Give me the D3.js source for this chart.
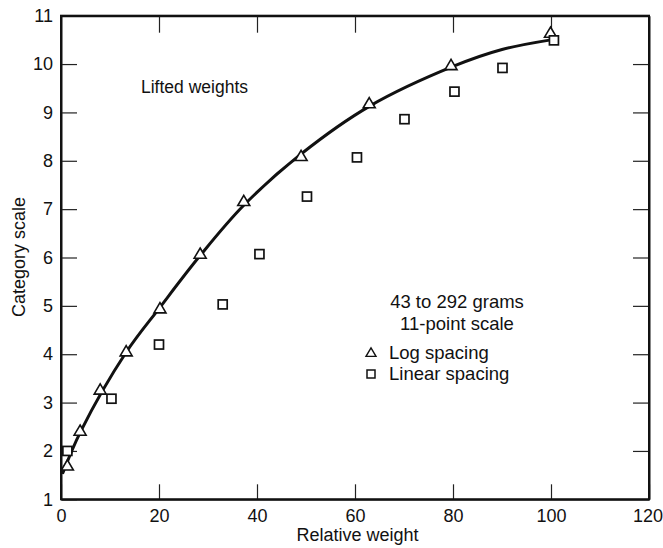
<!DOCTYPE html>
<html>
<head>
<meta charset="utf-8">
<script src="https://cdn.jsdelivr.net/npm/d3@7"></script>
<style>
  html, body { margin: 0; padding: 0; background: #fff; }
  svg { display: block; }
  text { font-family: "Liberation Sans", Arial, sans-serif; fill: #111; }
</style>
</head>
<body>
<svg id="chart" width="663" height="548"></svg>
<script>
// ---- Data ----
const logX = [1.3, 3.9, 8.0, 13.3, 20.2, 28.4, 37.3, 49.0, 62.9, 79.6, 99.9];
const logY = [1.69, 2.41, 3.26, 4.05, 4.94, 6.07, 7.16, 8.09, 9.18, 9.97, 10.64];

const linX = [1.3, 10.3, 20.0, 33.0, 40.5, 50.2, 60.4, 70.1, 80.3, 90.1, 100.6];
const linY = [2.0, 3.08, 4.20, 5.03, 6.07, 7.26, 8.07, 8.86, 9.43, 9.92, 10.49];

// fitted curve, points
const curveX = [0.4, 4, 13.3, 20.2, 28.4, 37.3, 49, 63, 80, 90, 100];
const curveY = [1.55, 2.4, 4.04, 4.97, 6.04, 7.08, 8.14, 9.13, 9.95, 10.3, 10.5];

const xTicks = [0, 20, 40, 60, 80, 100, 120];
const yTicks = [1, 2, 3, 4, 5, 6, 7, 8, 9, 10, 11];

const titleText = "Lifted weights";
const noteLines = ["43 to 292 grams", "11-point scale"];
const legendLabels = ["Log spacing", "Linear spacing"];
const xLabel = "Relative weight";
const yLabel = "Category scale";

// ---- Layout ----
const svg = d3.select("#chart");
const mLeft = 61, mRight = 649, mTop = 15.7, mBottom = 499.3;

const x = d3.scaleLinear().domain([0, 120]).range([mLeft, mRight]);
const y = d3.scaleLinear().domain([1, 11]).range([mBottom, mTop]);

const fontSize = 18;

const gB = svg.append("g").attr("transform", `translate(0,${mBottom})`)
  .call(d3.axisBottom(x).tickValues(xTicks).tickSizeInner(-15).tickSizeOuter(0).tickPadding(9.5));
const gL = svg.append("g").attr("transform", `translate(${mLeft},0)`)
  .call(d3.axisLeft(y).tickValues(yTicks).tickSizeInner(-16).tickSizeOuter(0).tickPadding(8));
const gT = svg.append("g").attr("transform", `translate(0,${mTop})`)
  .call(d3.axisTop(x).tickValues(xTicks.slice(1, -1)).tickSizeInner(-17).tickSizeOuter(0).tickFormat(""));
const gR = svg.append("g").attr("transform", `translate(${mRight},0)`)
  .call(d3.axisRight(y).tickValues(yTicks.slice(1, -1)).tickSizeInner(-16).tickSizeOuter(0).tickFormat(""));

[gB, gL, gT, gR].forEach(g => {
  g.select(".domain").attr("stroke", "#111").attr("stroke-width", 2);
  g.selectAll(".tick line").attr("stroke", "#222").attr("stroke-width", 1.2);
  g.selectAll(".tick text").attr("font-size", fontSize)
    .attr("font-family", "'Liberation Sans', Arial, sans-serif").attr("fill", "#111");
});
// keep last x tick label inside the page
gB.selectAll(".tick text").filter(d => d === 120).attr("text-anchor", "end").attr("x", 13.5);

svg.append("rect").attr("x", mLeft).attr("y", mTop).attr("width", mRight - mLeft).attr("height", mBottom - mTop)
  .attr("fill", "none").attr("stroke", "#111").attr("stroke-width", 2);

// Fitted curve
const line = d3.line().x((d, i) => x(curveX[i])).y((d, i) => y(curveY[i])).curve(d3.curveCatmullRom.alpha(0.5));
svg.append("path").datum(curveX).attr("d", line)
  .attr("fill", "none").attr("stroke", "#111").attr("stroke-width", 3).attr("stroke-linecap", "round");

// Markers
const triPath = (cx, cy, s) => {
  const h = s * 0.85;
  return `M${cx},${cy - h * 0.6}L${cx + s / 2},${cy + h * 0.4}L${cx - s / 2},${cy + h * 0.4}Z`;
};

svg.append("g").selectAll("path").data(logX).join("path")
  .attr("d", (d, i) => triPath(x(d), y(logY[i]), 12))
  .attr("fill", "#fff").attr("stroke", "#111").attr("stroke-width", 1.6);

svg.append("g").selectAll("rect").data(linX).join("rect")
  .attr("x", d => x(d) - 4.5).attr("y", (d, i) => y(linY[i]) - 4.5)
  .attr("width", 9).attr("height", 9)
  .attr("fill", "#fff").attr("stroke", "#111").attr("stroke-width", 1.7);

// Annotation
svg.append("text").attr("x", 141).attr("y", 93).attr("font-size", 17.5).text(titleText);

svg.append("g").selectAll("text").data(noteLines).join("text")
  .attr("x", 457).attr("y", (d, i) => 308 + i * 22)
  .attr("text-anchor", "middle").attr("font-size", 18.5).text(d => d);

const legY = [359, 380];
svg.append("g").selectAll("text").data(legendLabels).join("text")
  .attr("x", 389).attr("y", (d, i) => legY[i]).attr("font-size", 18.5).text(d => d);
svg.append("path").attr("d", triPath(371, legY[0] - 6, 10))
  .attr("fill", "#fff").attr("stroke", "#111").attr("stroke-width", 1.4);
svg.append("rect").attr("x", 371 - 4).attr("y", legY[1] - 6 - 4).attr("width", 8).attr("height", 8)
  .attr("fill", "#fff").attr("stroke", "#111").attr("stroke-width", 1.5);

// Axis titles
svg.append("text").attr("x", 357.5).attr("y", 541).attr("text-anchor", "middle")
  .attr("font-size", 18).text(xLabel);
svg.append("text").attr("transform", "translate(25,257) rotate(-90)")
  .attr("text-anchor", "middle").attr("font-size", 18).text(yLabel);
</script>
</body>
</html>
